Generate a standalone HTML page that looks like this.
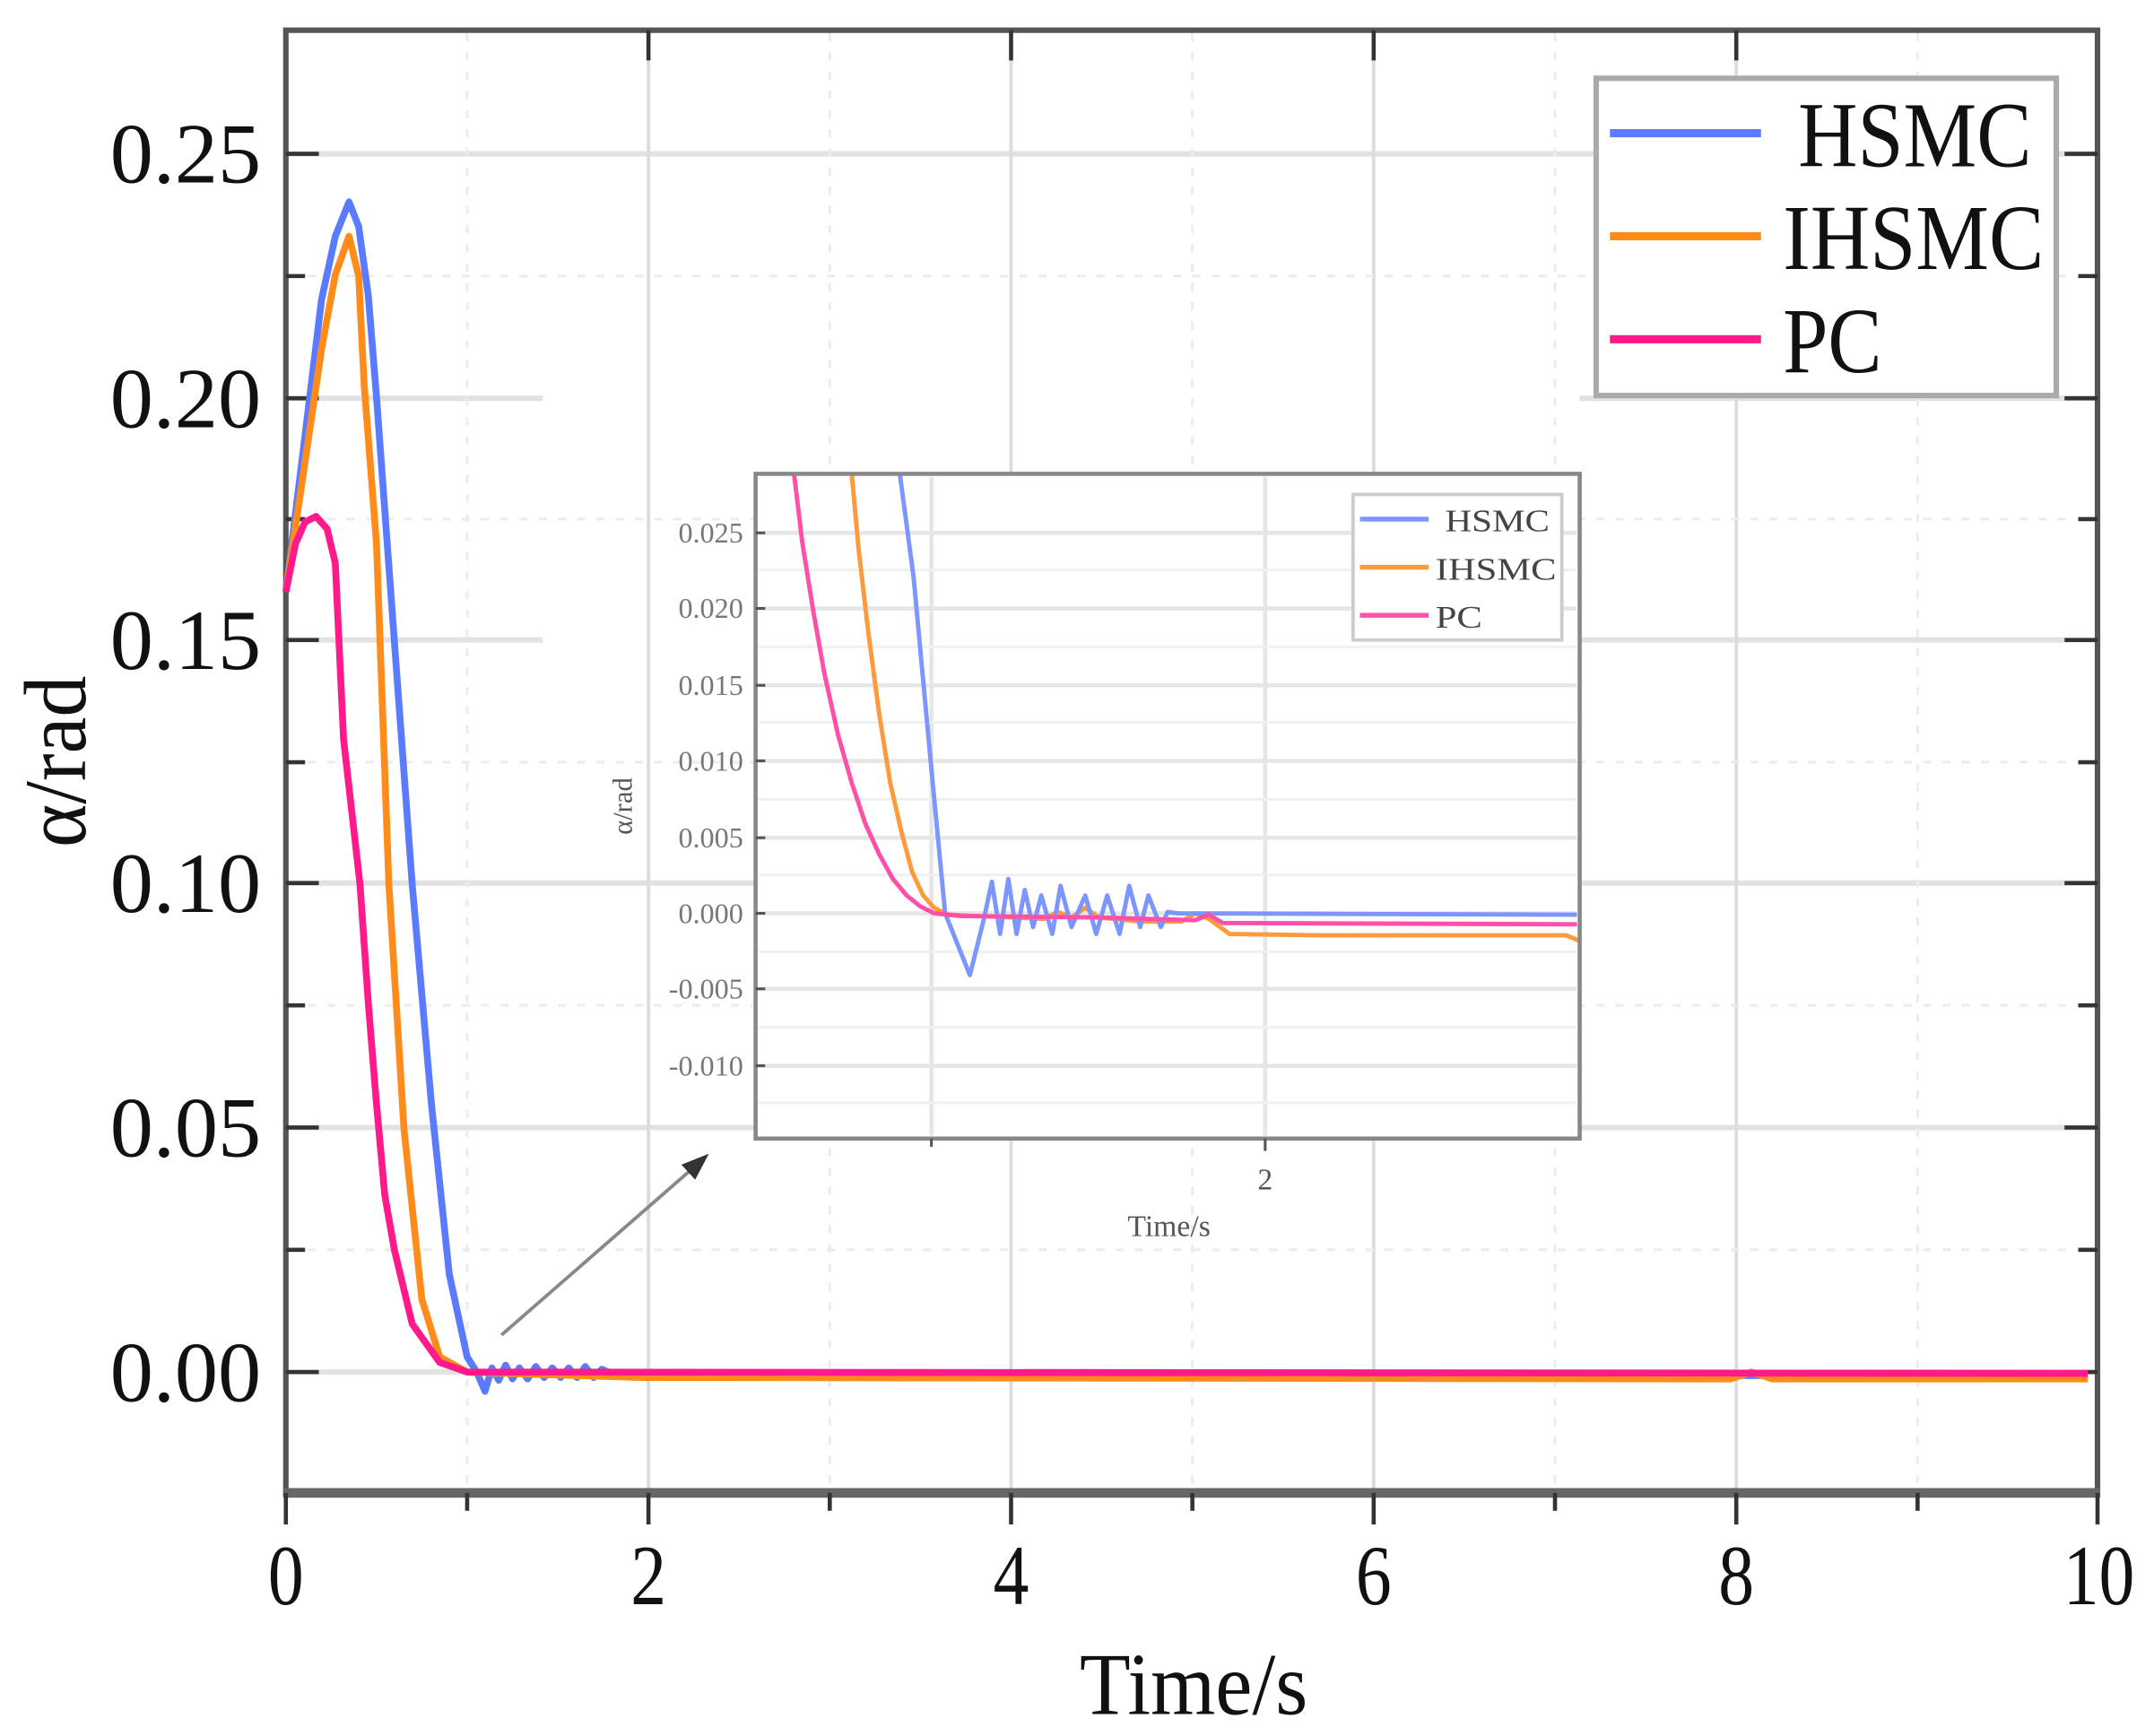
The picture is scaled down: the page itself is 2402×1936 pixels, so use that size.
<!DOCTYPE html>
<html><head><meta charset="utf-8"><style>html,body{margin:0;padding:0;background:#fff}svg{display:block}</style></head>
<body>
<svg width="2402" height="1936" viewBox="0 0 1568 1264" xmlns="http://www.w3.org/2000/svg" font-family="'Liberation Serif', serif">
<rect width="1568" height="1264" fill="#fff"/>
<g stroke="#e2e2e2" stroke-width="4">
<line x1="210" y1="112" x2="1525" y2="112"/>
<line x1="210" y1="290" x2="395" y2="290"/>
<line x1="210" y1="466" x2="395" y2="466"/>
<line x1="210" y1="643" x2="1525" y2="643"/>
<line x1="210" y1="821" x2="1525" y2="821"/>
<line x1="210" y1="999" x2="1525" y2="999"/>
<line x1="1150" y1="290" x2="1525" y2="290"/>
<line x1="1150" y1="466" x2="1525" y2="466"/>
</g>
<g stroke="#dcdcdc" stroke-width="2.5">
<line x1="472" y1="24" x2="472" y2="1085"/>
<line x1="736" y1="24" x2="736" y2="1085"/>
<line x1="1000" y1="24" x2="1000" y2="1085"/>
<line x1="1264" y1="24" x2="1264" y2="1085"/>
</g>
<g stroke="#ececec" stroke-width="2" stroke-dasharray="6,8">
<line x1="340" y1="24" x2="340" y2="1085"/>
<line x1="604" y1="24" x2="604" y2="1085"/>
<line x1="868" y1="24" x2="868" y2="1085"/>
<line x1="1132" y1="24" x2="1132" y2="1085"/>
<line x1="1396" y1="24" x2="1396" y2="1085"/>
<line x1="210" y1="201" x2="1525" y2="201"/>
<line x1="210" y1="378" x2="1525" y2="378"/>
<line x1="210" y1="555" x2="1525" y2="555"/>
<line x1="210" y1="732" x2="1525" y2="732"/>
<line x1="210" y1="910" x2="1525" y2="910"/>
</g>
<rect x="208" y="22" width="1319" height="1065" fill="none" stroke="#555" stroke-width="4"/>
<line x1="206" y1="1087" x2="1529" y2="1087" stroke="#666" stroke-width="7"/>
<g stroke="#333" stroke-width="3">
<line x1="208" y1="112" x2="232" y2="112"/><line x1="208" y1="290" x2="232" y2="290"/><line x1="208" y1="466" x2="232" y2="466"/><line x1="208" y1="643" x2="232" y2="643"/><line x1="208" y1="821" x2="232" y2="821"/><line x1="208" y1="999" x2="232" y2="999"/>
<line x1="208" y1="201" x2="222" y2="201"/><line x1="208" y1="378" x2="222" y2="378"/><line x1="208" y1="555" x2="222" y2="555"/><line x1="208" y1="732" x2="222" y2="732"/><line x1="208" y1="910" x2="222" y2="910"/>
<line x1="1527" y1="112" x2="1503" y2="112"/><line x1="1527" y1="290" x2="1503" y2="290"/><line x1="1527" y1="466" x2="1503" y2="466"/><line x1="1527" y1="643" x2="1503" y2="643"/><line x1="1527" y1="821" x2="1503" y2="821"/><line x1="1527" y1="999" x2="1503" y2="999"/>
<line x1="1527" y1="201" x2="1513" y2="201"/><line x1="1527" y1="378" x2="1513" y2="378"/><line x1="1527" y1="555" x2="1513" y2="555"/><line x1="1527" y1="732" x2="1513" y2="732"/><line x1="1527" y1="910" x2="1513" y2="910"/>
<line x1="208" y1="1087" x2="208" y2="1110"/><line x1="472" y1="1087" x2="472" y2="1110"/><line x1="736" y1="1087" x2="736" y2="1110"/><line x1="1000" y1="1087" x2="1000" y2="1110"/><line x1="1264" y1="1087" x2="1264" y2="1110"/><line x1="1527" y1="1087" x2="1527" y2="1110"/>
<line x1="340" y1="1087" x2="340" y2="1100"/><line x1="604" y1="1087" x2="604" y2="1100"/><line x1="868" y1="1087" x2="868" y2="1100"/><line x1="1132" y1="1087" x2="1132" y2="1100"/><line x1="1396" y1="1087" x2="1396" y2="1100"/>
<line x1="472" y1="22" x2="472" y2="44"/><line x1="736" y1="22" x2="736" y2="44"/><line x1="1000" y1="22" x2="1000" y2="44"/><line x1="1264" y1="22" x2="1264" y2="44"/>
</g>
<g font-size="62" fill="#111" text-anchor="end">
<text x="190" y="133" textLength="110" lengthAdjust="spacingAndGlyphs">0.25</text>
<text x="190" y="311" textLength="110" lengthAdjust="spacingAndGlyphs">0.20</text>
<text x="190" y="487" textLength="110" lengthAdjust="spacingAndGlyphs">0.15</text>
<text x="190" y="664" textLength="110" lengthAdjust="spacingAndGlyphs">0.10</text>
<text x="190" y="842" textLength="110" lengthAdjust="spacingAndGlyphs">0.05</text>
<text x="190" y="1020" textLength="110" lengthAdjust="spacingAndGlyphs">0.00</text>
</g>
<g font-size="62" fill="#111">
<text x="195" y="1168" textLength="26" lengthAdjust="spacingAndGlyphs">0</text>
<text x="459" y="1168" textLength="26" lengthAdjust="spacingAndGlyphs">2</text>
<text x="723" y="1168" textLength="26" lengthAdjust="spacingAndGlyphs">4</text>
<text x="987" y="1168" textLength="26" lengthAdjust="spacingAndGlyphs">6</text>
<text x="1251" y="1168" textLength="26" lengthAdjust="spacingAndGlyphs">8</text>
<text x="1502" y="1168" textLength="52" lengthAdjust="spacingAndGlyphs">10</text>
<text x="786" y="1248" font-size="64" textLength="166" lengthAdjust="spacingAndGlyphs">Time/s</text>
<text transform="translate(62,617) rotate(-90)" font-size="64" textLength="125" lengthAdjust="spacingAndGlyphs">α/rad</text>
</g>
<g fill="none" stroke-width="5" stroke-linejoin="round">
<polyline stroke="#5b7bff" points="208,431 221,325 234,218 244,172 254,147 261,165 268,215 274,289 287,467 300,644 314,804 327,928 340,988 347,999 353,1013 358,996 363,1005 368,994 373,1004 378,996 384,1004 390,995 396,1003 402,996 408,1003 414,996 420,1003 426,995 432,1003 438,997 445,1000 1520,1002"/>
<polyline stroke="#ff8c1a" points="208,431 221,343 234,254 244,200 254,172 261,201 265,280 274,396 283,644 294,822 307,946 320,988 340,999 400,1001 470,1003 1260,1004 1275,999 1290,1004 1520,1004"/>
<polyline stroke="#ff1a8c" points="208,431 215,396 222,380 230,376 238,385 244,410 250,538 262,644 268,730 274,804 280,870 287,910 300,964 320,992 340,999 1520,1000"/>
</g>
<line x1="365" y1="972" x2="505" y2="850" stroke="#888" stroke-width="2.5"/>
<polygon points="516,840 496,848 506,859" fill="#333"/>
<rect x="1162" y="57" width="335" height="231" fill="#fff" stroke="#aaa" stroke-width="4"/>
<line x1="1172" y1="97" x2="1282" y2="97" stroke="#5b7bff" stroke-width="6"/>
<line x1="1172" y1="172" x2="1282" y2="172" stroke="#ff8c1a" stroke-width="6"/>
<line x1="1172" y1="247" x2="1282" y2="247" stroke="#ff1a8c" stroke-width="6"/>
<g font-size="68" fill="#111">
<text x="1309" y="121" textLength="170" lengthAdjust="spacingAndGlyphs">HSMC</text>
<text x="1298" y="196" textLength="190" lengthAdjust="spacingAndGlyphs">IHSMC</text>
<text x="1298" y="271" textLength="72" lengthAdjust="spacingAndGlyphs">PC</text>
</g>
<rect x="550" y="345" width="600" height="484" fill="#fff"/>
<g stroke="#e6e6e6" stroke-width="3">
<line x1="552" y1="388" x2="1148" y2="388"/><line x1="552" y1="443" x2="1148" y2="443"/><line x1="552" y1="499" x2="1148" y2="499"/><line x1="552" y1="554" x2="1148" y2="554"/><line x1="552" y1="610" x2="1148" y2="610"/><line x1="552" y1="665" x2="1148" y2="665"/><line x1="552" y1="720" x2="1148" y2="720"/><line x1="552" y1="776" x2="1148" y2="776"/>
<line x1="678" y1="347" x2="678" y2="827"/><line x1="921" y1="347" x2="921" y2="827"/>
</g>
<g stroke="#f0f0f0" stroke-width="2">
<line x1="552" y1="415" x2="1148" y2="415"/><line x1="552" y1="471" x2="1148" y2="471"/><line x1="552" y1="526" x2="1148" y2="526"/><line x1="552" y1="582" x2="1148" y2="582"/><line x1="552" y1="637" x2="1148" y2="637"/><line x1="552" y1="693" x2="1148" y2="693"/><line x1="552" y1="748" x2="1148" y2="748"/><line x1="552" y1="803" x2="1148" y2="803"/>
</g>
<g fill="none" stroke-width="3.2" stroke-linejoin="round">
<polyline stroke="#ff9a3c" points="620,345 625,400 632,460 640,520 648,570 656,605 664,635 672,652 680,661 690,666 760,669 770,664 780,668 790,661 800,668 830,671 860,671 870,665 880,669 895,680 960,681 1140,681 1150,685"/>
<polyline stroke="#7c95ff" points="655,345 665,420 678,560 688,665 706,710 716,670 722,642 728,680 734,640 740,680 746,648 752,675 758,652 766,680 772,645 780,675 790,652 798,680 806,652 815,680 822,645 830,675 836,652 845,675 850,664 858,665 1148,666"/>
<polyline stroke="#ff4fa8" points="578,345 584,395 592,445 600,490 610,535 620,570 630,600 640,622 650,640 660,652 670,660 680,665 700,667 800,668 870,670 880,666 890,672 1148,673"/>
</g>
<rect x="550" y="345" width="600" height="484" fill="none" stroke="#888" stroke-width="3"/>
<g stroke="#555" stroke-width="2">
<line x1="550" y1="388" x2="557" y2="388"/><line x1="550" y1="443" x2="557" y2="443"/><line x1="550" y1="499" x2="557" y2="499"/><line x1="550" y1="554" x2="557" y2="554"/><line x1="550" y1="610" x2="557" y2="610"/><line x1="550" y1="665" x2="557" y2="665"/><line x1="550" y1="720" x2="557" y2="720"/><line x1="550" y1="776" x2="557" y2="776"/>
<line x1="678" y1="829" x2="678" y2="835"/><line x1="921" y1="829" x2="921" y2="838"/>
</g>
<g font-size="21" fill="#777" text-anchor="end">
<text x="541" y="395">0.025</text><text x="541" y="450">0.020</text><text x="541" y="506">0.015</text><text x="541" y="561">0.010</text><text x="541" y="617">0.005</text><text x="541" y="672">0.000</text><text x="541" y="727">-0.005</text><text x="541" y="783">-0.010</text>
</g>
<text x="921" y="866" font-size="22" fill="#555" text-anchor="middle">2</text>
<text x="851" y="900" font-size="22" fill="#555" text-anchor="middle">Time/s</text>
<text transform="translate(460,587) rotate(-90)" font-size="20" fill="#555" text-anchor="middle">α/rad</text>
<rect x="985" y="360" width="152" height="106" fill="#fff" stroke="#ccc" stroke-width="2.5"/>
<line x1="990" y1="378" x2="1040" y2="378" stroke="#7c95ff" stroke-width="3.5"/>
<line x1="990" y1="413" x2="1040" y2="413" stroke="#ff9a3c" stroke-width="3.5"/>
<line x1="990" y1="448" x2="1040" y2="448" stroke="#ff4fa8" stroke-width="3.5"/>
<g font-size="23" fill="#444">
<text x="1052" y="387" textLength="76" lengthAdjust="spacingAndGlyphs">HSMC</text><text x="1045" y="422" textLength="88" lengthAdjust="spacingAndGlyphs">IHSMC</text><text x="1045" y="457" textLength="34" lengthAdjust="spacingAndGlyphs">PC</text>
</g>
</svg>
</body></html>
